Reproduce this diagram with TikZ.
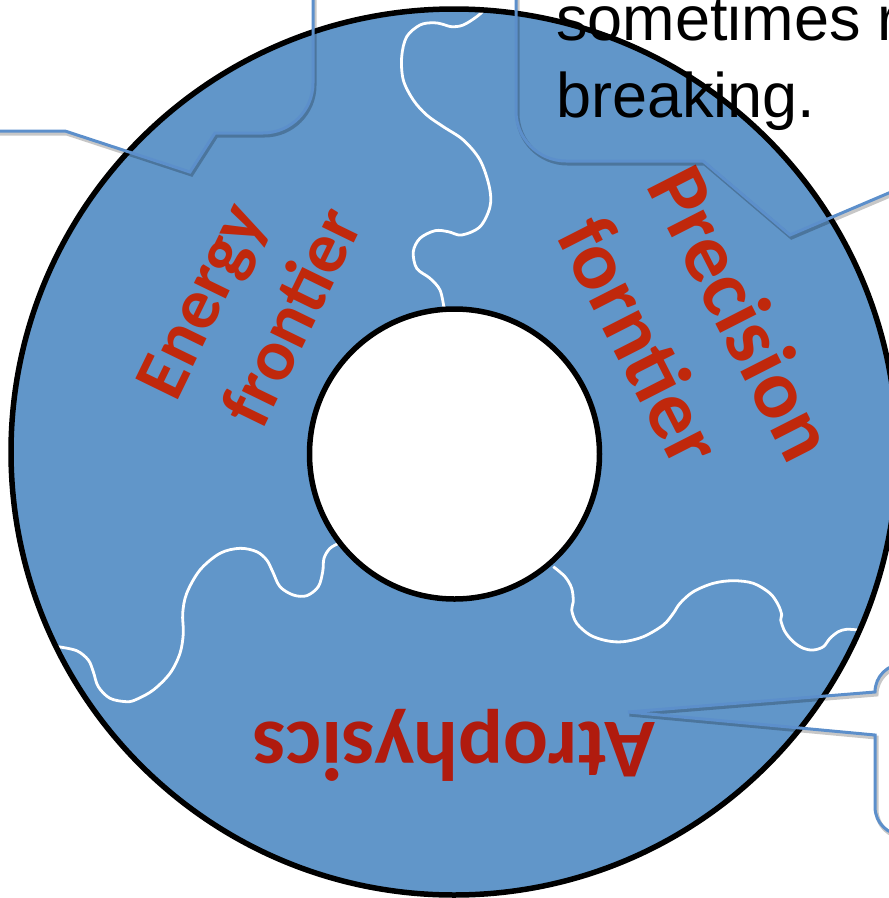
\documentclass[tikz,border=0pt]{standalone}
\usepackage{fontspec}
\newfontfamily\carl{Carlito}
\newfontfamily\arialf{Liberation Sans}
\definecolor{ringblue}{RGB}{97,150,201}
\definecolor{callblue}{RGB}{92,143,203}
\definecolor{redA}{RGB}{192,40,12}
\definecolor{redB}{RGB}{176,27,14}
\begin{document}
\begin{tikzpicture}[x=1pt,y=-1pt,
  ringtext/.style={inner sep=0pt, outer sep=0pt, font=\carl\bfseries\fontsize{84}{102}\selectfont},
  smalltext/.style={inner sep=0pt, outer sep=0pt, font=\carl\bfseries\fontsize{73}{89}\selectfont},
  notetext/.style={inner sep=0pt, outer sep=0pt, font=\arialf\fontsize{63}{77}\selectfont, text=black},
  seam/.style={white, line width=2.8pt},
  callline/.style={draw=callblue, line width=3pt, line join=miter,
     preaction={draw=black, opacity=0.22, line width=4pt, transform canvas={shift={(1.5pt,-2.5pt)}}}}
]
\path[use as bounding box] (0,0) rectangle (889,898);
\clip (0,0) rectangle (889,898);

% ring
\fill[ringblue, even odd rule] (454,452) circle[radius=443pt] (454.5,454) circle[radius=145pt];

% seams
\draw[seam] plot[smooth, tension=0.55] coordinates {
 (484.3,10) (476.7,16.7) (463.3,25) (451.7,26.7) (441.7,24) (433.3,22.7) (420,25) (406.7,36.7)
 (401.7,56.7) (403.3,80) (413.3,100) (426.7,115) (443.3,126.7) (463.3,140) (480,160) (489.3,186.7)
 (490,206.7) (480,226.7) (461.7,235) (448.3,231.7) (435,230.7) (420,238.3) (413.3,251.7)
 (416.7,268.3) (430,278.3) (440,290) (444,308)};
\draw[seam] plot[smooth, tension=0.55] coordinates {
 (340,542.7) (330,548.3) (324,558.3) (322.7,571.7) (318.3,586.7) (306.7,595.7) (293.3,595)
 (280,586.7) (272.7,571.7) (266.7,560) (256.7,551.7) (240,548.3) (220,553.3) (200,570)
 (186.7,593.3) (182.7,613.3) (183.3,633.3) (180,653.3) (170,673.3) (153.3,690) (136.7,699.3)
 (126.7,701.7) (110,698.3) (98.3,686.7) (93.3,671.7) (88.3,660) (76.7,650.7) (58,646.7)};
\draw[seam] plot[smooth, tension=0.55] coordinates {
 (553.3,566.7) (565,576.7) (571.7,588.3) (573.3,601.7) (571.7,610) (576.7,623.3) (590,635)
 (606.7,640.7) (623.3,641.7) (643.3,636.7) (663.3,625) (673.3,613.3) (680,603.3) (693.3,591.7)
 (713.3,583.3) (733.3,580.7) (753.3,583.3) (770,593.3) (778.3,605) (781.7,615) (780.7,620)
 (785,631.7) (793.3,641.7) (803.3,648.3) (813.3,650) (823.3,646.7) (830,638.3) (838.3,631.7)
 (846.7,629.3) (858,630)};

% ring outlines
\draw[black, line width=5.5pt] (454,452) circle[radius=443pt];
\draw[black, line width=5.5pt] (454.5,454) circle[radius=145pt];

% ring labels
\node[smalltext, text=redA, rotate=64, anchor=base west] (energyA) at (176,403) {Energy};
\node[smalltext, text=redA, rotate=64, anchor=base west] (energyB) at (262,431) {frontier};
\node[ringtext, text=redA, rotate=-63, anchor=base west] (precA) at (645,185) {Precision};
\node[ringtext, text=redA, rotate=-63, anchor=base west] (precB) at (555,235) {forntier};
\node[ringtext, text=redB, rotate=180, anchor=base] (astro) at (454,722) {Atrophysics};

% callouts
\path[callline] (313,-5) -- (313,83) .. controls (313,110.6) and (290.6,133) .. (263,133)
   -- (215,133) -- (190,172) -- (65,131) -- (-5,131);
\path[callline] (516,-5) -- (516,111) .. controls (516,138.6) and (538.4,161) .. (566,161)
   -- (703,161) -- (790,235) -- (964,161);
\path[callline] (960,664) -- (903,664) .. controls (887.5,664) and (875,676.5) .. (875,692)
   -- (628,712) -- (875,735) -- (875,807) .. controls (875,822.5) and (887.5,835) .. (903,835) -- (960,835);

% callout text
\node[notetext, anchor=base west] (noteA) at (556,40) {sometimes r};
\node[notetext, anchor=base west] (noteB) at (556,117) {breaking.};
\end{tikzpicture}
\end{document}
